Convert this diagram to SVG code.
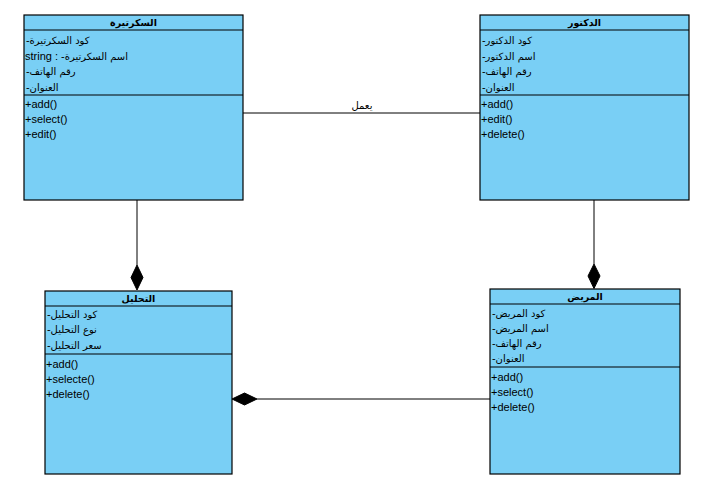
<svg xmlns="http://www.w3.org/2000/svg" width="710" height="502" viewBox="0 0 710 502">
<style>
.box{fill:#79CFF5;stroke:#000;stroke-width:1.2}
.sep{stroke:#000;stroke-width:1.2}
.t{font-family:"Liberation Sans","DejaVu Sans",sans-serif;font-size:11px;fill:#000}
.ar{font-family:"DejaVu Sans","Liberation Sans",sans-serif;font-size:10px;fill:#000}
.h{font-family:"DejaVu Sans","Liberation Sans",sans-serif;font-size:9.5px;font-weight:bold;fill:#000;text-anchor:middle}
.ln{stroke:#000;stroke-width:1;fill:none}
.dia{fill:#000;stroke:#000;stroke-width:1}
</style>
<rect width="710" height="502" fill="#fff"/>
<g id="connectors">
<line class="ln" x1="243" y1="113" x2="480" y2="113"/>
<text class="ar" x="362" y="109" text-anchor="middle">يعمل</text>
<line class="ln" x1="137" y1="200" x2="137" y2="265"/>
<polygon class="dia" points="137,265 143,277.5 137,290 131,277.5"/>
<line class="ln" x1="594" y1="200" x2="594" y2="264"/>
<polygon class="dia" points="594,264 600,276 594,288.5 588,276"/>
<line class="ln" x1="257" y1="399" x2="490" y2="399"/>
<polygon class="dia" points="232,399 244.5,393 257,399 244.5,405"/>
</g>
<g id="secretary">
<rect class="box" x="24" y="15" width="219" height="185"/>
<line class="sep" x1="24" y1="30" x2="243" y2="30"/>
<line class="sep" x1="24" y1="95" x2="243" y2="95"/>
<text class="h" x="133.5" y="26">السكرتيرة</text>
<text class="ar" x="26" y="44">&#x200E;-كود السكرتيرة</text>
<text class="t" x="25" y="60">string : <tspan class="ar">&#x200E;-اسم السكرتيرة</tspan></text>
<text class="ar" x="26" y="75">&#x200E;-رقم الهاتف</text>
<text class="ar" x="26" y="91">&#x200E;-العنوان</text>
<text class="t" x="25" y="108">+add()</text>
<text class="t" x="25" y="123">+select()</text>
<text class="t" x="25" y="138">+edit()</text>
</g>
<g id="doctor">
<rect class="box" x="480" y="15" width="209" height="185"/>
<line class="sep" x1="480" y1="30" x2="689" y2="30"/>
<line class="sep" x1="480" y1="95" x2="689" y2="95"/>
<text class="h" x="584.5" y="26">الدكتور</text>
<text class="ar" x="482" y="44">&#x200E;-كود الدكتور</text>
<text class="ar" x="482" y="60">&#x200E;-اسم الدكتور</text>
<text class="ar" x="482" y="75">&#x200E;-رقم الهاتف</text>
<text class="ar" x="482" y="91">&#x200E;-العنوان</text>
<text class="t" x="481" y="108">+add()</text>
<text class="t" x="481" y="123">+edit()</text>
<text class="t" x="481" y="138">+delete()</text>
</g>
<g id="analysis">
<rect class="box" x="45" y="291" width="187" height="183"/>
<line class="sep" x1="45" y1="306" x2="232" y2="306"/>
<line class="sep" x1="45" y1="354" x2="232" y2="354"/>
<text class="h" x="138.5" y="302">التحليل</text>
<text class="ar" x="47" y="318">&#x200E;-كود التحليل</text>
<text class="ar" x="47" y="333">&#x200E;-نوع التحليل</text>
<text class="ar" x="47" y="349">&#x200E;-سعر التحليل</text>
<text class="t" x="46" y="368">+add()</text>
<text class="t" x="46" y="383">+selecte()</text>
<text class="t" x="46" y="398">+delete()</text>
</g>
<g id="patient">
<rect class="box" x="490" y="289" width="190" height="185"/>
<line class="sep" x1="490" y1="304" x2="680" y2="304"/>
<line class="sep" x1="490" y1="367" x2="680" y2="367"/>
<text class="h" x="585" y="300">المريض</text>
<text class="ar" x="492" y="317">&#x200E;-كود المريض</text>
<text class="ar" x="492" y="332">&#x200E;-اسم المريض</text>
<text class="ar" x="492" y="347">&#x200E;-رقم الهاتف</text>
<text class="ar" x="492" y="362">&#x200E;-العنوان</text>
<text class="t" x="491" y="381">+add()</text>
<text class="t" x="491" y="396">+select()</text>
<text class="t" x="491" y="411">+delete()</text>
</g>
</svg>
